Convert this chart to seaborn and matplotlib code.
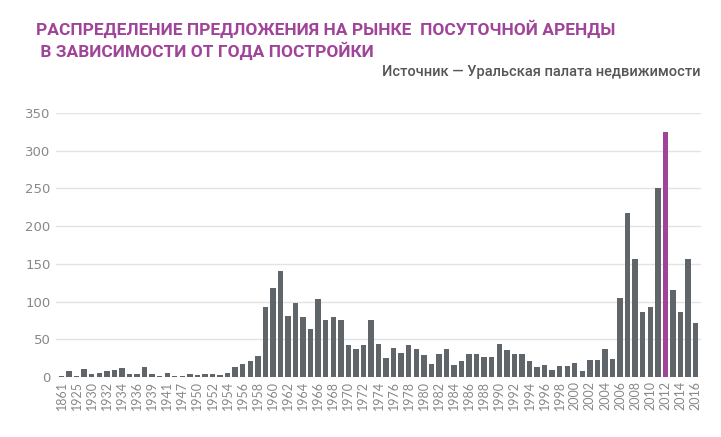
import matplotlib
matplotlib.use("Agg")
import matplotlib.pyplot as plt
import seaborn as sns
import pandas as pd

years = ["1861","1917","1925","1927","1930","1931","1932","1933","1934","1935","1936","1937","1939","1940","1941","1946","1947","1949","1950","1951","1952","1953"] + [str(y) for y in range(1954, 2017)]
values = [1,8,2,11,4,5,8,9,12,4,4,14,4,2,6,1,1,4,3,4,4,3,
          5,14,17,22,28,93,118,141,81,98,80,64,103,76,80,75,43,37,43,75,44,
          25,38,32,43,37,29,18,30,37,16,21,31,31,27,26,44,36,30,30,22,13,16,9,15,15,19,8,
          23,23,37,24,105,217,156,86,93,250,325,116,86,156,72]
labels_shown = ["1861","1925","1930","1932","1934","1936","1939","1941","1947","1950","1952"] + [str(y) for y in range(1954, 2017, 2)]
highlight = "2012"

df = pd.DataFrame({"year": years, "value": values})
gray, mag = "#5f6569", "#a0449a"
palette = {y: (mag if y == highlight else gray) for y in years}

fig = plt.figure(figsize=(7.21, 4.37), dpi=100)
ax = fig.add_axes([0.077, 0.137, 0.895, 0.605])
sns.barplot(data=df, x="year", y="value", hue="year", palette=palette, legend=False,
            width=0.72, ax=ax, saturation=1)
ax.set_ylim(0, 350)
ax.set_xlim(-0.8, len(years) - 0.3)
ax.set_yticks(range(0, 351, 50))
ax.yaxis.grid(True, color="#e3e3e3", lw=1)
ax.set_axisbelow(True)
ax.set_xticks([years.index(l) for l in labels_shown])
ax.set_xticklabels(labels_shown, rotation=90, fontsize=9, color="#888888", family="Lato")
ax.tick_params(axis="y", labelsize=9.5, labelcolor="#888888", length=0)
ax.tick_params(axis="x", length=0, pad=3)
for s in ax.spines.values():
    s.set_visible(False)
ax.set_xlabel(""); ax.set_ylabel("")
fig.text(0.05, 0.955, "РАСПРЕДЕЛЕНИЕ ПРЕДЛОЖЕНИЯ НА РЫНКЕ  ПОСУТОЧНОЙ АРЕНДЫ\n В ЗАВИСИМОСТИ ОТ ГОДА ПОСТРОЙКИ",
         fontsize=12.5, fontweight="bold", color=mag, va="top", family="Roboto", linespacing=1.25)
fig.text(0.972, 0.835, "Источник — Уральская палата недвижимости", fontsize=10.5, color="#555555",
         ha="right", va="center", family="Roboto", fontweight="medium")
fig.savefig("out.png", dpi=100)
